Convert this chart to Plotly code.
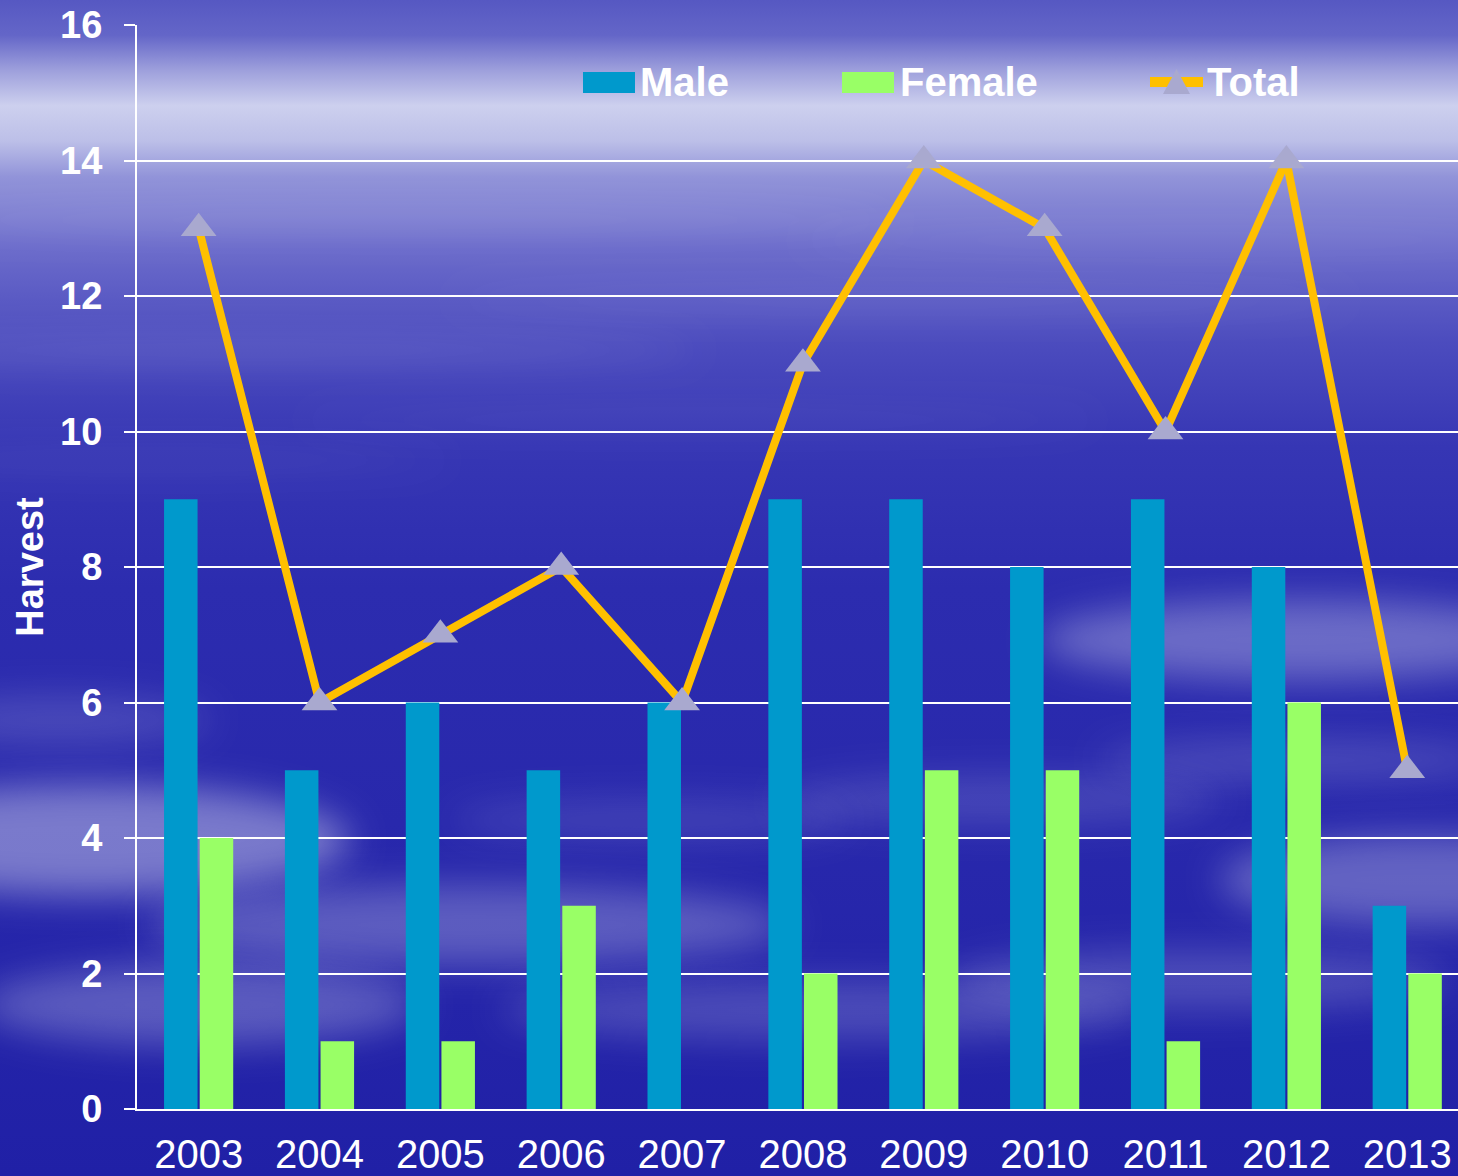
import base64
import plotly.graph_objects as go

years = ["2003", "2004", "2005", "2006", "2007", "2008", "2009", "2010", "2011", "2012", "2013"]
male = [9, 5, 6, 5, 6, 9, 9, 8, 9, 8, 3]
female = [4, 1, 1, 3, 0, 2, 5, 5, 1, 6, 2]
total = [13, 6, 7, 8, 6, 11, 14, 13, 10, 14, 5]
y_ticks = [0, 2, 4, 6, 8, 10, 12, 14, 16]

W, H = 1458, 1176
L, R, T, B = 137, 0, 25, 67
PW, PH = W - L - R, H - T - B

FONT = "Liberation Sans, Arial, sans-serif"
MALE_C = "#0099CC"
FEMALE_C = "#99FF66"
LINE_C = "#FFC000"
MARK_C = "#A9A9CF"

# background: sky / cloud gradient as an SVG
clouds = [
    (1300, 640, 260, 40, 0.30), (1420, 880, 200, 45, 0.28), (90, 840, 260, 55, 0.38),
    (470, 925, 320, 40, 0.25), (200, 1005, 220, 40, 0.25), (1000, 800, 220, 25, 0.14),
    (820, 1010, 320, 30, 0.18), (1200, 980, 250, 30, 0.18), (650, 820, 200, 20, 0.12),
    (250, 350, 450, 8, 0.18), (900, 300, 450, 6, 0.14), (400, 220, 500, 8, 0.16),
    (1200, 240, 400, 7, 0.15), (700, 420, 400, 6, 0.10), (150, 460, 300, 6, 0.12),
    (1300, 760, 200, 20, 0.16), (60, 720, 150, 25, 0.15),
]
ell = "".join(
    f'<ellipse cx="{cx}" cy="{cy}" rx="{rx}" ry="{ry}" fill="white" fill-opacity="{op}" filter="url(#b)"/>'
    for cx, cy, rx, ry, op in clouds
)
svg = f'''<svg xmlns="http://www.w3.org/2000/svg" width="{W}" height="{H}" viewBox="0 0 {W} {H}" preserveAspectRatio="none">
<defs>
<linearGradient id="g" x1="0" y1="0" x2="0" y2="1">
<stop offset="0" stop-color="#5658C2"/>
<stop offset="0.03" stop-color="#6466C8"/>
<stop offset="0.06" stop-color="#9EA0DC"/>
<stop offset="0.09" stop-color="#CDD0EE"/>
<stop offset="0.12" stop-color="#BCBFE8"/>
<stop offset="0.15" stop-color="#9294D9"/>
<stop offset="0.21" stop-color="#6C6CCB"/>
<stop offset="0.29" stop-color="#4C4CBE"/>
<stop offset="0.38" stop-color="#3636B4"/>
<stop offset="0.5" stop-color="#2C2CAF"/>
<stop offset="0.7" stop-color="#2828AC"/>
<stop offset="1" stop-color="#2020A6"/>
</linearGradient>
<filter id="b" x="-50%" y="-300%" width="200%" height="700%"><feGaussianBlur stdDeviation="18"/></filter>
</defs>
<rect width="{W}" height="{H}" fill="url(#g)"/>
{ell}
</svg>'''
bg_src = "data:image/svg+xml;base64," + base64.b64encode(svg.encode()).decode()


def px(xp):
    return (xp - L) / PW


def py(yp):
    return (H - B - yp) / PH


fig = go.Figure()
fig.add_trace(go.Bar(x=years, y=male, name="Male", marker=dict(color=MALE_C, line_width=0)))
fig.add_trace(go.Bar(x=years, y=female, name="Female", marker=dict(color=FEMALE_C, line_width=0)))
fig.add_trace(go.Scatter(
    x=years, y=total, name="Total", mode="lines+markers",
    line=dict(color=LINE_C, width=8),
    marker=dict(symbol="triangle-up", size=31, color=MARK_C, line_width=0),
))

shapes = [
    dict(type="rect", xref="paper", yref="paper", x0=px(583), x1=px(635), y0=py(93), y1=py(72),
         fillcolor=MALE_C, line_width=0),
    dict(type="rect", xref="paper", yref="paper", x0=px(842), x1=px(894), y0=py(93), y1=py(72),
         fillcolor=FEMALE_C, line_width=0),
    dict(type="line", xref="paper", yref="paper", x0=px(1150), x1=px(1203), y0=py(82), y1=py(82),
         line=dict(color=LINE_C, width=10)),
    dict(type="path", xref="paper", yref="paper",
         path=f"M {px(1163)},{py(94)} L {px(1176.5)},{py(69)} L {px(1190)},{py(94)} Z",
         fillcolor=MARK_C, line_width=0),
]
annotations = [
    dict(text=t, x=px(xx), y=py(82), xref="paper", yref="paper", xanchor="left", yanchor="middle",
         showarrow=False, font=dict(family=FONT, size=40, color="white", weight="bold"))
    for t, xx in [("Male", 638), ("Female", 898), ("Total", 1205)]
]

fig.update_layout(
    width=W, height=H,
    margin=dict(l=L, r=R, t=T, b=B),
    paper_bgcolor="#2E2EB0",
    plot_bgcolor="rgba(0,0,0,0)",
    barmode="group", bargap=0.41, bargroupgap=0.06,
    showlegend=False,
    font=dict(family=FONT, color="white"),
    images=[dict(source=bg_src, xref="paper", yref="paper", x=-L / PW, y=1 + T / PH,
                 sizex=W / PW, sizey=H / PH, xanchor="left", yanchor="top",
                 sizing="stretch", layer="below")],
    shapes=shapes,
    annotations=annotations,
    xaxis=dict(
        type="category", range=[-0.51, len(years) - 0.58],
        showline=True, linecolor="white", linewidth=2,
        showgrid=False, ticks="", tickfont=dict(size=40, color="white"),
        ticklabelstandoff=9,
    ),
    yaxis=dict(
        range=[0, 16], tickvals=y_ticks, showline=True, linecolor="white", linewidth=2,
        showgrid=True, gridcolor="white", gridwidth=2, zeroline=False,
        ticks="outside", ticklen=11, tickcolor="white", tickwidth=2,
        tickfont=dict(size=38, color="white", weight="bold"), ticklabelstandoff=14,
        title=dict(text="Harvest", font=dict(size=38, color="white", weight="bold"), standoff=5),
    ),
)

fig.write_html(
    "out.html",
    config={"displayModeBar": False},
    post_script="document.body.style.margin='0';document.body.style.overflow='hidden';",
)
